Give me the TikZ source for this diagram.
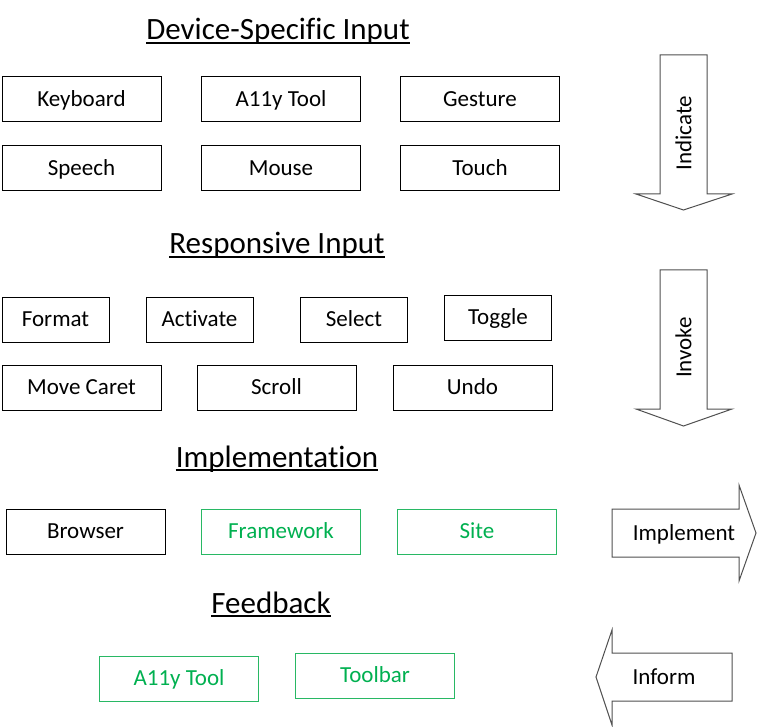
\documentclass[tikz,border=0pt]{standalone}
\usepackage{fontspec}
\setmainfont{Carlito}[Ligatures=NoCommon]
\definecolor{grn}{RGB}{0,176,80}
\definecolor{grnline}{RGB}{40,184,100}
\definecolor{arrline}{RGB}{80,80,80}
\begin{document}
\begin{tikzpicture}[x=1pt,y=-1pt,
  box/.style={draw=black, line width=1pt, minimum height=45pt, inner sep=0pt,
    text height=14.8pt, text depth=0pt, font=\fontsize{23}{27}\selectfont},
  wide/.style={box, minimum width=159pt},
  narrow/.style={box, minimum width=107pt},
  greenbox/.style={wide, draw=grnline, text=grn},
  title/.style={anchor=base, inner sep=0pt, font=\fontsize{31}{34}\selectfont},
  uline/.style={line width=1.3pt},
  bigarrow/.style={draw=arrline, line width=1pt, fill=white},
  arrlabel/.style={inner sep=0pt, text height=14.8pt, text depth=0pt, font=\fontsize{23}{27}\selectfont}]
\useasboundingbox (0,0) rectangle (768,727);

% titles
\node[title] (t1) at (278,40) {Device-Specific Input};
\node[title] (t2) at (277,254) {Responsive Input};
\node[title] (t3) at (277,467) {Implementation};
\node[title] (t4) at (271,613) {Feedback};
\foreach \t in {t1,t2,t3,t4}
  \draw[uline] ([yshift=-3pt]\t.base west) -- ([yshift=-3pt]\t.base east);

% device-specific input
\node[wide] (kb) at (81.5,99.5) {Keyboard};
\node[wide] (a11y) at (281,99.5) {A11y Tool};
\node[wide] (gest) at (480,99.5) {Gesture};
\node[wide] (speech) at (81.5,168.5) {Speech};
\node[wide] (mouse) at (281,168.5) {Mouse};
\node[wide] (touch) at (480,168.5) {Touch};

% responsive input
\node[narrow] (fmt) at (55.5,319.5) {Format};
\node[narrow] (act) at (199.5,319.5) {Activate};
\node[narrow] (sel) at (354,319.5) {Select};
\node[narrow] (tog) at (498,317.5) {Toggle};
\node[wide] (caret) at (81.5,387.5) {Move Caret};
\node[wide] (scroll) at (276.5,387.5) {Scroll};
\node[wide] (undo) at (472.5,387.5) {Undo};

% implementation
\node[wide] (browser) at (85.5,531.5) {Browser};
\node[greenbox] (fw) at (281,531.5) {Framework};
\node[greenbox] (site) at (477,531.5) {Site};

% feedback
\node[greenbox] (a11yfb) at (179,678.5) {A11y Tool};
\node[greenbox] (toolbar) at (375,675.5) {Toolbar};

% block arrows
\draw[bigarrow] (660,55) -- (707,55) -- (707,194) -- (732,194) -- (683.5,210) -- (636,194) -- (660,194) -- cycle;
\node[arrlabel, rotate=90] (ind) at (684,133) {Indicate};

\draw[bigarrow] (660,270) -- (707,270) -- (707,409) -- (732,409) -- (683.5,426) -- (636,409) -- (660,409) -- cycle;
\node[arrlabel, rotate=90] (inv) at (684,347.5) {Invoke};

\draw[bigarrow] (612,509) -- (739,509) -- (739,485) -- (756,533) -- (739,581) -- (739,557) -- (612,557) -- cycle;
\node[arrlabel] (impl) at (684,533) {Implement};

\draw[bigarrow] (732,653) -- (612,653) -- (612,630) -- (596,677) -- (612,725) -- (612,701) -- (732,701) -- cycle;
\node[arrlabel] (inf) at (664,677) {Inform};
\end{tikzpicture}
\end{document}
